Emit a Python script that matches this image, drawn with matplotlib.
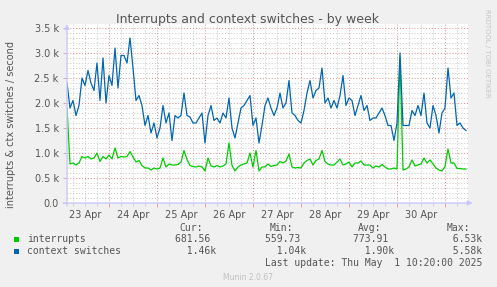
import matplotlib
matplotlib.use('Agg')
import matplotlib.dates as mdates
import matplotlib.pyplot as plt
import pandas as pd
from matplotlib.patches import Rectangle
from matplotlib.ticker import FuncFormatter, MultipleLocator

# samples every 90 minutes, values in thousands per second
interrupts = [
    1.9, 0.78, 0.8, 0.76, 0.8, 0.93, 0.9, 0.93, 0.88, 0.9,
    1.0, 0.83, 0.93, 0.88, 0.96, 0.88, 1.1, 0.9, 0.93, 0.92,
    0.93, 1.03, 0.92, 0.82, 0.85, 0.75, 0.7, 0.7, 0.66, 0.7,
    0.68, 0.7, 0.9, 0.72, 0.78, 0.76, 0.76, 0.77, 0.82, 1.05,
    0.87, 0.75, 0.73, 0.72, 0.74, 0.72, 0.64, 0.9, 0.74, 0.72,
    0.75, 0.72, 0.74, 0.78, 1.2, 0.75, 0.64, 0.72, 0.76, 0.78,
    0.8, 1.0, 0.72, 1.05, 0.64, 0.72, 0.72, 0.78, 0.73, 0.75,
    0.76, 0.83, 0.8, 0.84, 0.98, 0.72, 0.7, 0.71, 0.7, 0.8,
    0.85, 0.88, 0.76, 0.85, 0.88, 1.05, 0.83, 0.78, 0.76, 0.76,
    0.82, 0.88, 0.76, 0.78, 0.82, 0.72, 0.8, 0.8, 0.84, 0.76,
    0.76, 0.76, 0.7, 0.74, 0.72, 0.77, 0.72, 0.68, 0.68, 0.7,
    0.68, 2.9, 0.66, 0.68, 0.72, 0.86, 0.74, 0.76, 0.78, 0.9,
    0.8, 0.86, 0.78, 0.7, 0.66, 0.64, 0.73, 1.08, 0.8, 0.8,
    0.69, 0.69, 0.68, 0.68,
]
ctx_switches = [
    2.4, 1.9, 2.05, 1.75, 1.95, 2.5, 2.35, 2.65, 2.4, 2.25,
    2.8, 2.05, 2.9, 2.0, 2.55, 2.35, 3.1, 2.3, 2.95, 2.95,
    2.8, 3.3, 2.7, 2.05, 2.15, 1.95, 1.55, 1.75, 1.4, 1.6,
    1.3, 1.5, 1.95, 1.6, 1.8, 1.25, 1.75, 1.7, 1.75, 2.2,
    1.75, 1.72, 1.6, 1.6, 1.7, 1.8, 1.2, 1.75, 1.95, 1.65,
    1.7, 1.6, 1.8, 1.7, 2.1, 1.5, 1.3, 1.6, 1.9, 1.95,
    2.05, 2.15, 1.55, 1.7, 1.2, 1.55, 1.95, 2.1, 1.9, 1.75,
    1.9, 2.2, 1.9, 2.0, 2.45, 1.8, 1.75, 1.65, 1.6, 1.85,
    2.2, 2.45, 2.1, 2.25, 2.3, 2.7, 2.0, 2.1, 1.9, 2.05,
    1.9, 2.15, 2.55, 1.95, 2.1, 2.05, 1.75, 1.95, 2.15, 1.85,
    1.95, 1.65, 1.7, 1.7, 1.8, 1.9, 1.75, 1.55, 1.55, 1.25,
    1.6, 3.0, 1.55, 1.55, 1.55, 1.85, 1.75, 1.95, 1.75, 2.2,
    1.6, 1.5, 1.95, 1.75, 1.4, 1.8, 1.9, 2.7, 2.1, 2.2,
    1.55, 1.6, 1.5, 1.45,
]
series_names = ['interrupts', 'context switches']
series_colors = ['#00CC00', '#0066B3']
stat_headers = ['Cur:', 'Min:', 'Avg:', 'Max:']
stat_rows = [
    ['681.56 ', '559.73 ', '773.91 ', '  6.53k'],
    ['  1.46k', '  1.04k', '  1.90k', '  5.58k'],
]
title = 'Interrupts and context switches - by week'
y_label = 'interrupts & ctx switches / second'
last_update = 'Last update: Thu May  1 10:20:00 2025'

W, H = 497, 287


def fx(px):
    return px / W


def fy(py):
    return 1 - py / H


times = pd.date_range('2025-04-23 02:50', periods=len(ctx_switches), freq='90min')

fig = plt.figure(figsize=(W / 100, H / 100), dpi=100, facecolor='#F0F0F0')
ax = fig.add_axes([fx(67), fy(203), 401 / W, 179 / H])
ax.set_facecolor('white')

ax.plot(times, interrupts, color=series_colors[0], lw=0.9)
ax.plot(times, ctx_switches, color=series_colors[1], lw=0.9)

ax.set_xlim(times[0], times[0] + pd.Timedelta(hours=200.5))
ax.set_ylim(0, 3.5 * 179 / 175)

# grid: red dotted majors, grey dotted minors
ax.yaxis.set_major_locator(MultipleLocator(0.5))
ax.yaxis.set_minor_locator(MultipleLocator(0.1))
ax.xaxis.set_major_locator(mdates.DayLocator())
ax.xaxis.set_minor_locator(mdates.HourLocator(byhour=[6, 12, 18]))
ax.grid(which='minor', color='#c8c8c8', lw=0.7, ls=(0, (1, 2)))
ax.grid(which='major', color='#e08888', lw=0.7, ls=(0, (1, 2)))
ax.set_axisbelow(True)

ax.yaxis.set_major_formatter(FuncFormatter(lambda v, p: '0.0' if v == 0 else f'{v:.1f} k'))
ax.xaxis.set_major_formatter(FuncFormatter(lambda v, p: ''))
ax.xaxis.set_minor_formatter(FuncFormatter(
    lambda v, p: mdates.num2date(v).strftime('%d %b') if mdates.num2date(v).hour == 12 else ''))

ax.tick_params(axis='y', which='major', length=3, width=0.6, color='#c8a0a0',
               labelsize=7, labelcolor='#555555', pad=3)
ax.tick_params(axis='y', which='minor', length=0)
ax.tick_params(axis='x', which='major', length=3, width=0.6, color='#e89090')
ax.tick_params(axis='x', which='minor', length=2, width=0.6, color='#cccccc',
               labelsize=7, labelcolor='#555555', pad=3)

for s in ax.spines.values():
    s.set_visible(False)

# axis arrows
arrow = dict(arrowstyle='-|>', color='#c8c8f8', lw=1, mutation_scale=7, shrinkA=0, shrinkB=0)
ax.annotate('', xy=(0, 1.0), xytext=(0, -0.015), xycoords='axes fraction', arrowprops=arrow)
ax.annotate('', xy=(1.012, 0), xytext=(-0.01, 0), xycoords='axes fraction', arrowprops=arrow)

fig.text(fx(248), fy(19), title, ha='center', va='center', fontsize=9, color='#555555')
fig.text(fx(11), fy(125), y_label, rotation=90, ha='center', va='center', fontsize=7, color='#555555')
fig.text(fx(487), fy(53), 'RRDTOOL / TOBI OETIKER', rotation=270, ha='center', va='center',
         fontsize=5, color='#c4c4c4')

# legend block
mono = 'DejaVu Sans Mono'
header_x = [203, 293, 381, 470]
col_right = [216.5, 306, 394, 482]
for hx, h in zip(header_x, stat_headers):
    fig.text(fx(hx), fy(228), h, ha='right', va='center', fontsize=7, family=mono, color='#555555')
for row, (name, color, vals) in enumerate(zip(series_names, series_colors, stat_rows)):
    yy = 239.5 + row * 11.5
    fig.add_artist(Rectangle((fx(14), fy(yy + 2.5)), 5 / W, 5 / H, transform=fig.transFigure,
                             facecolor=color, edgecolor='none'))
    fig.text(fx(27), fy(yy), name, ha='left', va='center', fontsize=7, family=mono, color='#555555')
    for cx, v in zip(col_right, vals):
        fig.text(fx(cx), fy(yy), v, ha='right', va='center', fontsize=7, family=mono, color='#555555')
fig.text(fx(482), fy(263.5), last_update, ha='right', va='center', fontsize=7, family=mono,
         color='#555555')
fig.text(fx(248), fy(277), 'Munin 2.0.67', ha='center', va='center', fontsize=5.5, color='#c0c0c0')

fig.savefig('out.png', dpi=100, facecolor=fig.get_facecolor())
